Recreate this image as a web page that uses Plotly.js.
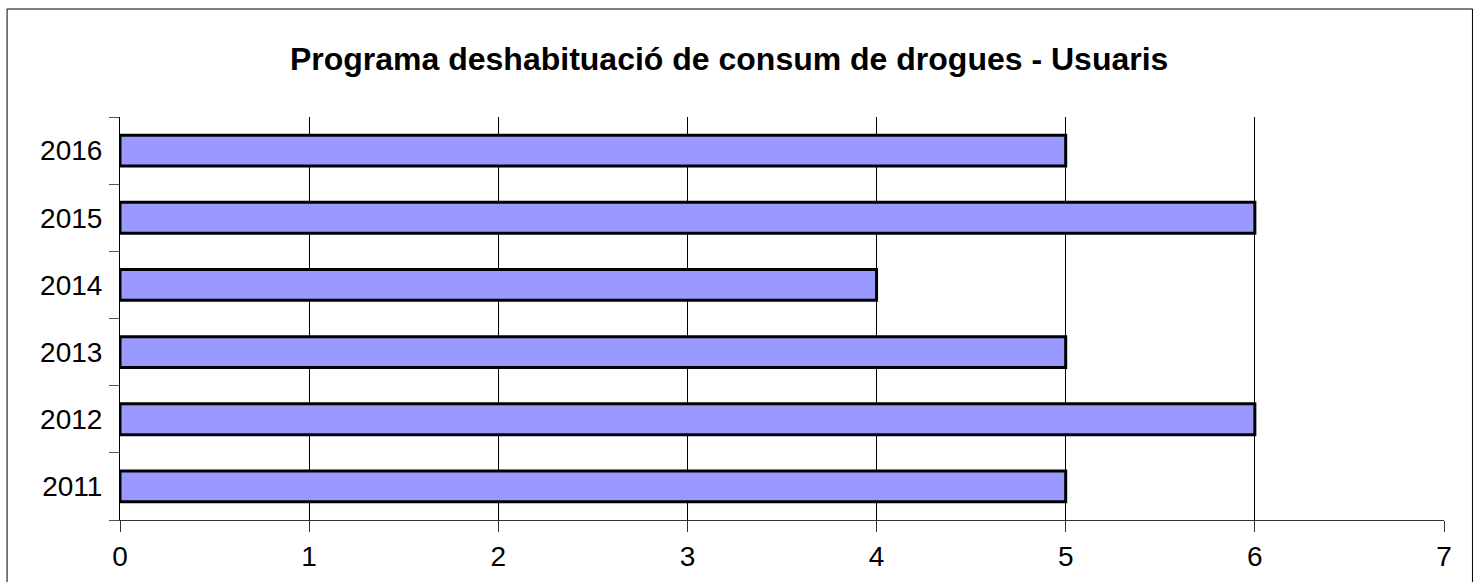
<!DOCTYPE html>
<html>
<head>
<meta charset="utf-8">
<script src="https://cdn.plot.ly/plotly-3.0.1.min.js"></script>
<style>
  html, body { margin: 0; padding: 0; background: #ffffff; }
  #chart { width: 1482px; height: 582px; }
</style>
</head>
<body>
<div id="chart"></div>
<script>
const years = ["2011", "2012", "2013", "2014", "2015", "2016"];
const usuaris = [5, 6, 5, 4, 6, 5];
const xTicks = [0, 1, 2, 3, 4, 5, 6, 7];
const chartTitle = "Programa deshabituació de consum de drogues - Usuaris";

const fontFamily = '"Liberation Sans", Arial, Helvetica, sans-serif';

const trace = {
  type: 'bar',
  orientation: 'h',
  y: years,
  x: usuaris,
  marker: { color: '#9999FF', line: { color: '#000000', width: 3 } },
  hoverinfo: 'x+y'
};

const layout = {
  width: 1482,
  height: 582,
  paper_bgcolor: '#ffffff',
  plot_bgcolor: '#ffffff',
  showlegend: false,
  bargap: 0.54,
  margin: { l: 120, r: 38, t: 117, b: 62, pad: 0 },
  title: {
    text: '<b>' + chartTitle + '</b>',
    font: { family: fontFamily, size: 32, color: '#000000' },
    x: 0.492, xref: 'container', xanchor: 'center',
    y: 0.899, yref: 'container', yanchor: 'middle'
  },
  xaxis: {
    range: [0, 7],
    tickvals: xTicks,
    ticktext: xTicks.map(String),
    ticks: 'outside', ticklen: 11, tickwidth: 1, tickcolor: '#333333',
    showgrid: true, gridcolor: '#000000', gridwidth: 1,
    showline: true, linecolor: '#333333', linewidth: 1,
    zeroline: false,
    tickfont: { family: fontFamily, size: 28, color: '#000000' },
    fixedrange: true
  },
  yaxis: {
    type: 'category',
    categoryorder: 'array',
    categoryarray: years,
    tickson: 'boundaries',
    ticks: 'outside', ticklen: 10, tickwidth: 1, tickcolor: '#555555',
    ticklabelstandoff: 11,
    showgrid: false,
    showline: true, linecolor: '#000000', linewidth: 1,
    zeroline: false,
    tickfont: { family: fontFamily, size: 28, color: '#000000' },
    fixedrange: true
  },
  shapes: [{
    type: 'rect', xref: 'paper', yref: 'paper',
    x0: -0.0853, x1: 1.0215, y0: -0.2, y1: 1.268,
    line: { color: '#000000', width: 1 }, fillcolor: 'rgba(0,0,0,0)', layer: 'below'
  }]
};

Plotly.newPlot('chart', [trace], layout, { displayModeBar: false, staticPlot: true });
</script>
</body>
</html>
